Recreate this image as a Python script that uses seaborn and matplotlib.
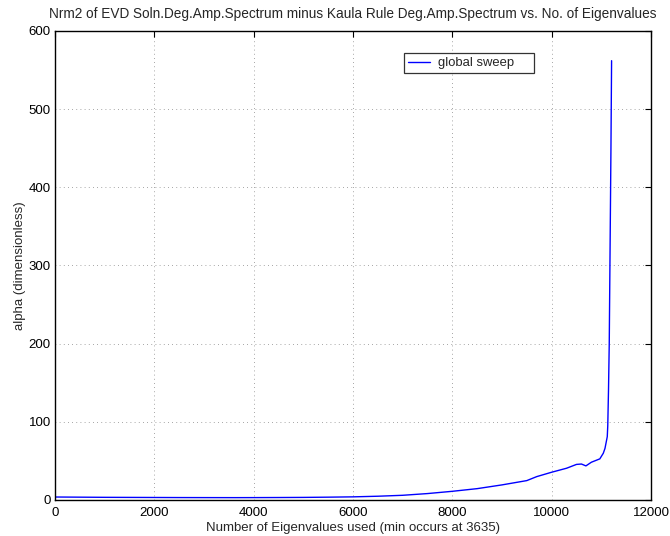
import numpy as np
import pandas as pd
import matplotlib
matplotlib.use("Agg")
import matplotlib.pyplot as plt
import seaborn as sns

# alpha values against the number of eigenvalues retained
n_eigen = [0, 500, 1000, 1500, 2000, 2500, 3000, 3635, 4000, 4500, 5000, 5500,
           6000, 6500, 7000, 7500, 8000, 8500, 9000, 9500, 9700, 10000, 10300,
           10500, 10600, 10690, 10800, 10970, 11040, 11074, 11120, 11130,
           11145, 11160, 11194, 11207]
alpha = [3.8, 3.6, 3.4, 3.3, 3.2, 3.1, 3.05, 3.0, 3.05, 3.15, 3.3, 3.6,
         4.0, 4.8, 6.0, 8.2, 11.1, 14.5, 19.3, 24.8, 29.9, 35.5, 40.6,
         45.5, 46.0, 43.6, 48.3, 52.6, 59.8, 66.0, 81.0, 95.0,
         141.0, 201.0, 449.0, 562.0]
series_name = "global sweep"

x_ticks = [0, 2000, 4000, 6000, 8000, 10000, 12000]
y_ticks = [0, 100, 200, 300, 400, 500, 600]

df = pd.DataFrame({"n": n_eigen, "alpha": alpha, "series": series_name})

sns.set_style("white")
plt.rcParams["font.family"] = ["Liberation Sans", "DejaVu Sans"]

fig = plt.figure(figsize=(6.7, 5.36), dpi=100)
ax = fig.add_axes([0.0821, 0.0672, 0.8895, 0.875])

sns.lineplot(data=df, x="n", y="alpha", hue="series", palette=["#0000ff"],
             linewidth=1.0, ax=ax, legend=True, estimator=None, sort=False)

ax.set_xlim(0, 12000)
ax.set_ylim(0, 600)
ax.set_xticks(x_ticks)
ax.set_yticks(y_ticks)
ax.set_xticklabels([str(t) for t in x_ticks], fontsize=9.5)
ax.set_yticklabels([str(t) for t in y_ticks], fontsize=9.5)
ax.tick_params(direction="in", length=4, width=0.8, top=True, right=True,
               colors="black")
ax.tick_params(axis="x", pad=5)
ax.tick_params(axis="y", pad=3)
ax.grid(True, linestyle=(0, (1, 4)), color="#888888", linewidth=0.6)
for s in ax.spines.values():
    s.set_visible(True)
    s.set_color("black")
    s.set_linewidth(1.0)

ax.set_xlabel("Number of Eigenvalues used (min occurs at 3635)", fontsize=9.5, labelpad=2)
ax.set_ylabel("alpha (dimensionless)", fontsize=9.5, labelpad=2)
ax.set_title("Nrm2 of EVD Soln.Deg.Amp.Spectrum minus Kaula Rule Deg.Amp.Spectrum vs. No. of Eigenvalues",
             fontsize=9.8, pad=9)

leg = ax.legend(loc="upper left", bbox_to_anchor=(0.5856, 0.853, 0.218, 0.1),
                mode="expand", borderaxespad=0, fontsize=9.4,
                frameon=True, fancybox=False, edgecolor="black",
                handlelength=1.7, borderpad=0.3, handletextpad=0.6)
leg.get_frame().set_linewidth(0.9)

fig.savefig("out.png", dpi=100)
